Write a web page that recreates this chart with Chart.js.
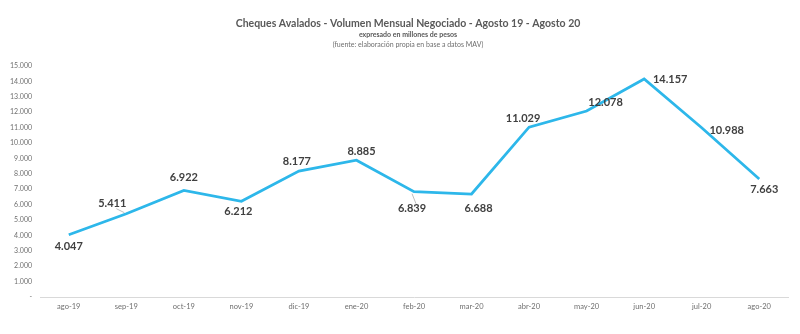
<!DOCTYPE html>
<html>
<head>
<meta charset="utf-8">
<script src="https://cdn.jsdelivr.net/npm/chart.js@4"></script>
<style>
  html, body { margin: 0; padding: 0; background: #fff; }
  #wrap { width: 800px; height: 334px; }
</style>
</head>
<body>
<div id="wrap"><canvas id="chart"></canvas></div>
<script>
const MONTHS = ["ago-19", "sep-19", "oct-19", "nov-19", "dic-19", "ene-20", "feb-20", "mar-20", "abr-20", "may-20", "jun-20", "jul-20", "ago-20"];
const VOLUME = [4047, 5411, 6922, 6212, 8177, 8885, 6839, 6688, 11029, 12078, 14157, 10988, 7663];

const TITLE = "Cheques Avalados - Volumen Mensual Negociado - Agosto 19 - Agosto 20";
const SUBTITLE = "expresado en millones de pesos";
const SOURCE = "(fuente: elaboración propia en base a datos MAV)";

// where each value label sits relative to its point (dx, dy)
const LABEL_OFFSETS = [
  [0, 12], [-14, -10], [0, -13], [-3, 10], [-2, -10], [5, -9], [-2, 17],
  [7, 14], [-6, -9], [19, -9], [26, 0], [25, 3], [5, 10],
];
const LEADERS = [1, 6]; // labels with a small gray leader line

const FONT = "Lato, 'Open Sans', sans-serif";

function fmt(v) {
  if (v === 0) return "-";
  return String(v).replace(/\B(?=(\d{3})+(?!\d))/g, ".");
}

const headerPlugin = {
  id: "header",
  afterDraw(chart) {
    const ctx = chart.ctx;
    const cx = 408;
    ctx.save();
    ctx.textAlign = "center";
    ctx.textBaseline = "middle";
    ctx.fillStyle = "#595959";
    ctx.font = "bold 10.5px " + FONT;
    ctx.fillText(TITLE, cx, 24);
    ctx.font = "bold 7px " + FONT;
    ctx.fillText(SUBTITLE, cx, 35);
    ctx.fillStyle = "#6f6f6f";
    ctx.font = "7px " + FONT;
    ctx.fillText(SOURCE, cx, 45);
    ctx.restore();
  },
};

const valueLabels = {
  id: "valueLabels",
  afterDatasetsDraw(chart) {
    const ctx = chart.ctx;
    const meta = chart.getDatasetMeta(0);
    ctx.save();
    meta.data.forEach((pt, i) => {
      const [dx, dy] = LABEL_OFFSETS[i];
      const x = pt.x + dx;
      const y = pt.y + dy;
      if (LEADERS.includes(i)) {
        ctx.strokeStyle = "#bfbfbf";
        ctx.lineWidth = 1;
        ctx.beginPath();
        ctx.moveTo(x + (dx < 0 ? 4 : 0), y + (dy < 0 ? 5 : -5));
        ctx.lineTo(pt.x - (dx < 0 ? 2 : 0), pt.y + (dy < 0 ? -1 : 2));
        ctx.stroke();
      }
      ctx.font = "bold 11px " + FONT;
      ctx.fillStyle = "#404040";
      ctx.textAlign = "center";
      ctx.textBaseline = "middle";
      ctx.fillText(fmt(VOLUME[i]), x, y);
    });
    ctx.restore();
  },
};

new Chart(document.getElementById("chart"), {
  type: "line",
  data: {
    labels: MONTHS,
    datasets: [{
      data: VOLUME,
      borderColor: "#2db7ea",
      borderWidth: 2.75,
      pointRadius: 0,
      tension: 0,
      fill: false,
    }],
  },
  options: {
    responsive: true,
    maintainAspectRatio: false,
    animation: false,
    layout: { padding: { top: 66, right: 12, left: 0, bottom: 0 } },
    plugins: {
      legend: { display: false },
      tooltip: { enabled: false },
    },
    scales: {
      x: {
        offset: true,
        grid: { display: false, drawTicks: false },
        border: { display: true, color: "#d9d9d9", width: 1 },
        ticks: { color: "#6f6f6f", font: { family: FONT, size: 7.5 }, padding: 5, maxRotation: 0, autoSkip: false },
        afterFit(scale) { scale.height = 37; },
      },
      y: {
        min: 0,
        max: 15000,
        grid: { display: false, drawTicks: false },
        border: { display: false },
        ticks: {
          stepSize: 1000,
          color: "#6f6f6f",
          font: { family: FONT, size: 7 },
          padding: 8,
          callback: (v) => fmt(v),
        },
        afterFit(scale) { scale.width = 40; },
      },
    },
  },
  plugins: [headerPlugin, valueLabels],
});
</script>
</body>
</html>
